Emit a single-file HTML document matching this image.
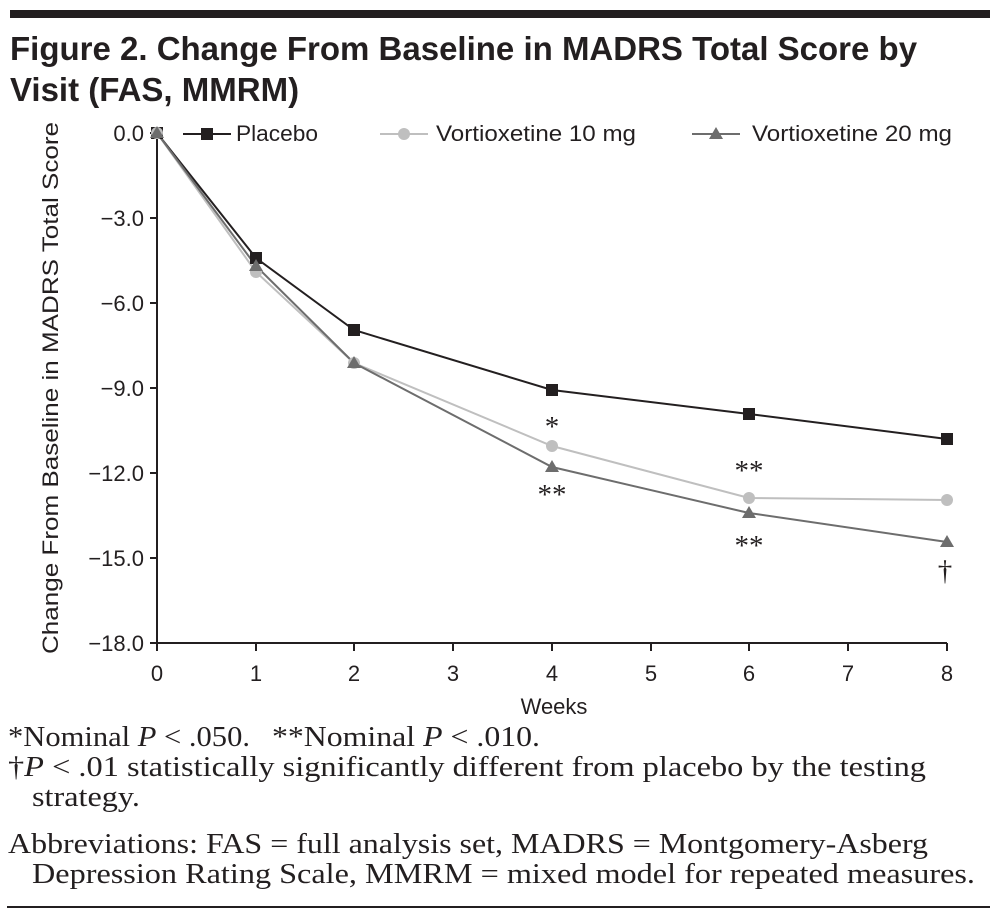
<!DOCTYPE html>
<html><head><style>
body{margin:0;background:#fff;}
svg{display:block}
.t{font-family:"Liberation Sans",sans-serif;font-weight:bold;font-size:33px;fill:#231f20}
.a{font-family:"Liberation Sans",sans-serif;font-size:22px;fill:#231f20}
.f{font-family:"Liberation Serif",serif;font-size:29px;fill:#231f20}
</style></head><body>
<svg width="999" height="919" viewBox="0 0 999 919">
<rect x="10" y="10" width="980" height="8" fill="#231f20"/>
<text class="t" x="10" y="60">Figure 2. Change From Baseline in MADRS Total Score by</text>
<text class="t" x="10" y="101">Visit (FAS, MMRM)</text>
<g stroke="#231f20" stroke-width="2" fill="none">
<line x1="157" y1="130" x2="157" y2="643"/>
<line x1="157" y1="643" x2="947" y2="643"/>
<line x1="150" y1="133" x2="157" y2="133"/><line x1="150" y1="218" x2="157" y2="218"/><line x1="150" y1="303" x2="157" y2="303"/><line x1="150" y1="388" x2="157" y2="388"/><line x1="150" y1="473" x2="157" y2="473"/><line x1="150" y1="558" x2="157" y2="558"/><line x1="150" y1="643" x2="157" y2="643"/>
<line x1="157" y1="643" x2="157" y2="651"/><line x1="256" y1="643" x2="256" y2="651"/><line x1="354" y1="643" x2="354" y2="651"/><line x1="453" y1="643" x2="453" y2="651"/><line x1="552" y1="643" x2="552" y2="651"/><line x1="651" y1="643" x2="651" y2="651"/><line x1="749" y1="643" x2="749" y2="651"/><line x1="848" y1="643" x2="848" y2="651"/><line x1="947" y1="643" x2="947" y2="651"/>
</g>
<g class="a" text-anchor="end">
<text x="144" y="141">0.0</text><text x="144" y="226">−3.0</text><text x="144" y="311">−6.0</text><text x="144" y="396">−9.0</text><text x="144" y="481">−12.0</text><text x="144" y="566">−15.0</text><text x="144" y="651">−18.0</text>
</g>
<g class="a" text-anchor="middle">
<text x="157" y="681">0</text><text x="256" y="681">1</text><text x="354" y="681">2</text><text x="453" y="681">3</text><text x="552" y="681">4</text><text x="651" y="681">5</text><text x="749" y="681">6</text><text x="848" y="681">7</text><text x="947" y="681">8</text>
<text x="554" y="714">Weeks</text>
<text transform="translate(58,388) rotate(-90)" textLength="532" lengthAdjust="spacingAndGlyphs">Change From Baseline in MADRS Total Score</text>
</g>
<polyline points="157,133 256,258 354,330 552,390 749,414 947,439" fill="none" stroke="#231f20" stroke-width="2"/>
<polyline points="157,133 256,272 354,363 552,446 749,498 947,500" fill="none" stroke="#bfbfbf" stroke-width="2"/>
<polyline points="157,133 256,266 354,363 552,467 749,513 947,542" fill="none" stroke="#6d6d6d" stroke-width="2"/>
<g fill="#231f20">
<rect x="151" y="127" width="12" height="12"/><rect x="250" y="252" width="12" height="12"/><rect x="348" y="324" width="12" height="12"/><rect x="546" y="384" width="12" height="12"/><rect x="743" y="408" width="12" height="12"/><rect x="941" y="433" width="12" height="12"/>
</g>
<g fill="#bfbfbf">
<circle cx="157" cy="133" r="6"/><circle cx="256" cy="272" r="6"/><circle cx="354" cy="363" r="6"/><circle cx="552" cy="446" r="6"/><circle cx="749" cy="498" r="6"/><circle cx="947" cy="500" r="6"/>
</g>
<g fill="#6d6d6d">
<polygon points="157,126 164,138 150,138"/><polygon points="256,259 263,271 249,271"/><polygon points="354,356 361,368 347,368"/><polygon points="552,460 559,472 545,472"/><polygon points="749,506 756,518 742,518"/><polygon points="947,535 954,547 940,547"/>
</g>
<g class="f" text-anchor="middle">
<text x="552" y="436">*</text><text x="552" y="504">**</text><text x="749" y="480">**</text><text x="749" y="555">**</text><text x="945" y="580">†</text>
</g>
<line x1="183" y1="134" x2="231" y2="134" stroke="#231f20" stroke-width="2"/><rect x="201" y="128" width="12" height="12" fill="#231f20"/>
<text class="a" x="236" y="141" textLength="82" lengthAdjust="spacingAndGlyphs">Placebo</text>
<line x1="380" y1="134" x2="428" y2="134" stroke="#bfbfbf" stroke-width="2"/><circle cx="404" cy="134" r="6" fill="#bfbfbf"/>
<text class="a" x="436" y="141" textLength="200" lengthAdjust="spacingAndGlyphs">Vortioxetine 10 mg</text>
<line x1="692" y1="134" x2="740" y2="134" stroke="#6d6d6d" stroke-width="2"/><polygon points="716,127 723,139 709,139" fill="#6d6d6d"/>
<text class="a" x="752" y="141" textLength="200" lengthAdjust="spacingAndGlyphs">Vortioxetine 20 mg</text>
<g class="f">
<text x="8" y="746" textLength="242" lengthAdjust="spacingAndGlyphs">*Nominal <tspan font-style="italic">P</tspan> &lt; .050.</text>
<text x="272" y="746" textLength="268" lengthAdjust="spacingAndGlyphs">**Nominal <tspan font-style="italic">P</tspan> &lt; .010.</text>
<text x="8" y="776" textLength="918" lengthAdjust="spacingAndGlyphs">†<tspan font-style="italic">P</tspan> &lt; .01 statistically significantly different from placebo by the testing</text>
<text x="32" y="806" textLength="108" lengthAdjust="spacingAndGlyphs">strategy.</text>
<text x="8" y="853" textLength="920" lengthAdjust="spacingAndGlyphs">Abbreviations: FAS = full analysis set, MADRS = Montgomery-Asberg</text>
<text x="32" y="883" textLength="943" lengthAdjust="spacingAndGlyphs">Depression Rating Scale, MMRM = mixed model for repeated measures.</text>
</g>
<rect x="7" y="906" width="983" height="2" fill="#231f20"/>
</svg>
</body></html>
